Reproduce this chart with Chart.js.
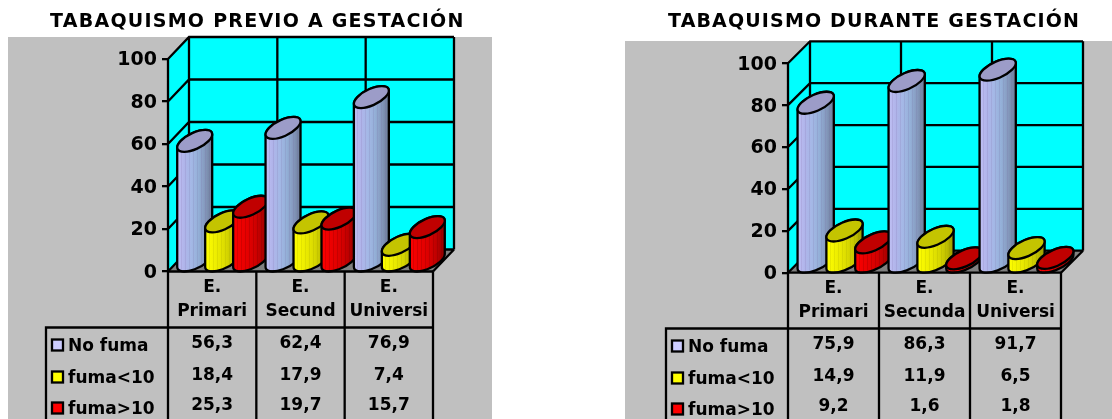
<!DOCTYPE html>
<html lang="es">
<head>
  <meta charset="UTF-8" />
  <title>Tabaquismo y gestación</title>
  <script src="https://cdn.jsdelivr.net/npm/chart.js"></script>
  <style>
    html, body { margin: 0; padding: 0; background: #fff; overflow: hidden; }
    canvas { position: absolute; top: 0; }
  </style>
</head>
<body>
  <canvas id="chartPrevio" width="556" height="419" style="left:0"></canvas>
  <canvas id="chartDurante" width="556" height="419" style="left:556px"></canvas>

  <script>
    const seriesNames = ["No fuma", "fuma<10", "fuma>10"];
    const yTicks = [0, 20, 40, 60, 80, 100];

    const previoCategories = [["E.", "Primari"], ["E.", "Secund"], ["E.", "Universi"]];
    const previoNoFuma = [56.3, 62.4, 76.9];
    const previoMenos10 = [18.4, 17.9, 7.4];
    const previoMas10 = [25.3, 19.7, 15.7];

    const duranteCategories = [["E.", "Primari"], ["E.", "Secunda"], ["E.", "Universi"]];
    const duranteNoFuma = [75.9, 86.3, 91.7];
    const duranteMenos10 = [14.9, 11.9, 6.5];
    const duranteMas10 = [9.2, 1.6, 1.8];

    const FONT = '"DejaVu Sans"';
    const LINE = 2.3;

    const swatchColors = ["#ccccff", "#ffff00", "#ff0000"];
    const topColors = ["#9c9cc8", "#c4c400", "#c00000"];
    const bodyStops = [
      ["#c0c0f4", "#b0b4ea", "#a4b8e6", "#94b0d8", "#8498bc", "#6c7c98"],
      ["#ffff00", "#f4f400", "#e8e800", "#d8d800", "#c0c000", "#989800"],
      ["#ff0000", "#f00000", "#e40000", "#d40000", "#b80000", "#8c0000"]
    ];
    const stripeColors = ["rgba(110,90,150,0.14)", "rgba(120,120,0,0.12)", "rgba(90,0,0,0.18)"];

    // draws walls, cylinders and the data table around the real scales
    function box3d(cfg) {
      return {
        id: "box3d",
        beforeDraw(chart) {
          const ctx = chart.ctx;
          const { x, y } = chart.scales;
          const a = chart.chartArea;
          ctx.save();
          ctx.fillStyle = "#c0c0c0";
          ctx.fillRect(cfg.grayLeft, cfg.grayTop, cfg.grayRight - cfg.grayLeft, 419 - cfg.grayTop);

          ctx.fillStyle = "#000";
          ctx.font = "bold 19px " + FONT;
          ctx.letterSpacing = cfg.titleSpacing + "px";
          ctx.textBaseline = "alphabetic";
          ctx.textAlign = "left";
          ctx.fillText(cfg.title, cfg.titleX, 27);
          ctx.letterSpacing = "0px";

          const dx = cfg.dx, dy = cfg.dy;
          const y0 = y.getPixelForValue(0), y100 = y.getPixelForValue(100);

          ctx.fillStyle = "#00ffff";
          ctx.fillRect(a.left + dx, y100 + dy, a.right - a.left, y0 - y100);
          ctx.beginPath();
          ctx.moveTo(a.left, y0);
          ctx.lineTo(a.left + dx, y0 + dy);
          ctx.lineTo(a.left + dx, y100 + dy);
          ctx.lineTo(a.left, y100);
          ctx.closePath();
          ctx.fill();

          ctx.fillStyle = "#808080";
          ctx.beginPath();
          ctx.moveTo(a.left, y0);
          ctx.lineTo(a.right, y0);
          ctx.lineTo(a.right + dx, y0 + dy);
          ctx.lineTo(a.left + dx, y0 + dy);
          ctx.closePath();
          ctx.fill();

          ctx.strokeStyle = "#000";
          ctx.lineWidth = LINE;
          ctx.beginPath();
          yTicks.forEach(t => {
            const py = y.getPixelForValue(t);
            ctx.moveTo(a.left, py);
            ctx.lineTo(a.left + dx, py + dy);
            ctx.lineTo(a.right + dx, py + dy);
          });
          const step = (a.right - a.left) / x.ticks.length;
          for (let i = 0; i <= x.ticks.length; i++) {
            ctx.moveTo(a.left + dx + step * i, y0 + dy);
            ctx.lineTo(a.left + dx + step * i, y100 + dy);
          }
          ctx.moveTo(a.left, y0);
          ctx.lineTo(a.left, y100);
          ctx.moveTo(a.right, y0);
          ctx.lineTo(a.right + dx, y0 + dy);
          ctx.stroke();
          ctx.restore();
        },
        afterDatasetsDraw(chart) {
          const ctx = chart.ctx;
          const { y } = chart.scales;
          const y0 = y.getPixelForValue(0);
          const metas = chart.data.datasets.map((d, i) => chart.getDatasetMeta(i));
          chart.data.labels.forEach((lab, c) => {
            metas.forEach((meta, s) => {
              const bar = meta.data[c];
              cylinder(ctx, bar.x + cfg.dx / 2, bar.y + cfg.dy / 2, y0 + cfg.dy / 2,
                bar.width / 2, cfg.dx / 2, cfg.dy / 2, s);
            });
          });
          drawTable(chart, cfg);
        }
      };
    }

    function cylinder(ctx, cx, top, base, ax, bx, by, s) {
      const t0 = Math.atan2(bx, ax);
      const r = Math.hypot(ax, bx);
      const grad = ctx.createLinearGradient(cx - r, 0, cx + r, 0);
      bodyStops[s].forEach((c, i) => grad.addColorStop(i / (bodyStops[s].length - 1), c));

      const bodyPath = () => {
        ctx.beginPath();
        ctx.save();
        ctx.transform(ax, 0, bx, by, cx, base);
        ctx.arc(0, 0, 1, t0, t0 - Math.PI, true);
        ctx.restore();
        ctx.save();
        ctx.transform(ax, 0, bx, by, cx, top);
        ctx.arc(0, 0, 1, t0 - Math.PI, t0, true);
        ctx.restore();
        ctx.closePath();
      };

      ctx.save();
      bodyPath();
      ctx.fillStyle = grad;
      ctx.fill();

      // the thin vertical streaks of the old 3d renderer
      ctx.save();
      ctx.clip();
      ctx.strokeStyle = stripeColors[s];
      ctx.lineWidth = 1;
      ctx.beginPath();
      for (let px = Math.floor(cx - r) + 4.5; px < cx + r; px += 4) {
        ctx.moveTo(px, top - Math.abs(by));
        ctx.lineTo(px, base + Math.abs(by));
      }
      ctx.stroke();
      ctx.restore();

      bodyPath();
      ctx.strokeStyle = "#000";
      ctx.lineWidth = LINE;
      ctx.stroke();

      ctx.beginPath();
      ctx.save();
      ctx.transform(ax, 0, bx, by, cx, top);
      ctx.arc(0, 0, 1, 0, Math.PI * 2);
      ctx.restore();
      ctx.fillStyle = topColors[s];
      ctx.fill();
      ctx.stroke();
      ctx.restore();
    }

    function drawTable(chart, cfg) {
      const ctx = chart.ctx;
      const a = chart.chartArea;
      const { x, y } = chart.scales;
      const y0 = y.getPixelForValue(0);
      const step = (a.right - a.left) / x.ticks.length;
      const cols = [a.left, a.left + step, a.left + step * 2, a.right];

      ctx.save();
      ctx.strokeStyle = "#000";
      ctx.lineWidth = LINE;
      ctx.beginPath();
      cols.forEach(cx => {
        ctx.moveTo(cx, y0);
        ctx.lineTo(cx, 419);
      });
      ctx.moveTo(cfg.tableLeft, 419);
      ctx.lineTo(cfg.tableLeft, cfg.rowLine);
      ctx.lineTo(a.right, cfg.rowLine);
      ctx.moveTo(a.left, y0);
      ctx.lineTo(a.right, y0);
      ctx.stroke();

      ctx.fillStyle = "#000";
      ctx.font = "bold 17px " + FONT;
      ctx.textBaseline = "middle";
      ctx.textAlign = "center";
      chart.data.labels.forEach((lab, c) => {
        const mid = x.getPixelForValue(c);
        ctx.fillText(lab[0], mid, cfg.rowLine - 40);
        ctx.fillText(lab[1], mid, cfg.rowLine - 16);
        chart.data.datasets.forEach((d, s) => {
          ctx.fillText(d.data[c].toFixed(1).replace(".", ","), mid, cfg.rowLine + cfg.valueRows[s]);
        });
      });

      ctx.textAlign = "left";
      seriesNames.forEach((name, s) => {
        const ry = cfg.rowLine + cfg.labelRows[s];
        ctx.fillStyle = swatchColors[s];
        ctx.fillRect(cfg.tableLeft + 6, ry - 6, 11, 11);
        ctx.strokeRect(cfg.tableLeft + 6, ry - 6, 11, 11);
        ctx.fillStyle = "#000";
        ctx.fillText(name, cfg.tableLeft + 22, ry + 1);
      });
      ctx.restore();
    }

    function makeChart(id, categories, series, cfg) {
      return new Chart(document.getElementById(id), {
        type: "bar",
        data: {
          labels: categories,
          datasets: series.map((values, s) => ({
            label: seriesNames[s],
            data: values,
            backgroundColor: "rgba(0,0,0,0)",
            borderWidth: 0,
            categoryPercentage: 0.95,
            barPercentage: 1
          }))
        },
        options: {
          responsive: false,
          animation: false,
          layout: {
            padding: { left: 0, top: cfg.y100, right: 556 - cfg.right, bottom: 419 - cfg.y0 }
          },
          plugins: { legend: { display: false }, tooltip: { enabled: false } },
          scales: {
            x: { display: false },
            y: {
              min: 0,
              max: 100,
              afterFit(scale) { scale.width = cfg.left; },
              afterBuildTicks(scale) { scale.ticks = yTicks.map(v => ({ value: v })); },
              border: { display: false },
              grid: { drawOnChartArea: false, color: "#000", lineWidth: LINE, tickLength: 6 },
              ticks: {
                padding: 5,
                labelOffset: 1.5,
                color: "#000",
                font: { family: FONT, size: 19, weight: "bold" }
              }
            }
          }
        },
        plugins: [box3d(cfg)]
      });
    }

    makeChart("chartPrevio", previoCategories, [previoNoFuma, previoMenos10, previoMas10], {
      title: "TABAQUISMO PREVIO A GESTACIÓN", titleX: 50, titleSpacing: 1.25,
      left: 168, right: 433, y0: 271.5, y100: 59, dx: 21, dy: -22,
      grayLeft: 8, grayRight: 492, grayTop: 37,
      tableLeft: 46, rowLine: 327.5,
      valueRows: [16, 48, 78], labelRows: [18, 50, 81]
    });

    makeChart("chartDurante", duranteCategories, [duranteNoFuma, duranteMenos10, duranteMas10], {
      title: "TABAQUISMO DURANTE GESTACIÓN", titleX: 112, titleSpacing: 1.15,
      left: 232, right: 505, y0: 272.7, y100: 63.3, dx: 22, dy: -22,
      grayLeft: 69, grayRight: 556, grayTop: 41,
      tableLeft: 110, rowLine: 328.5,
      valueRows: [16, 48, 78], labelRows: [18, 50, 81]
    });
  </script>
</body>
</html>
